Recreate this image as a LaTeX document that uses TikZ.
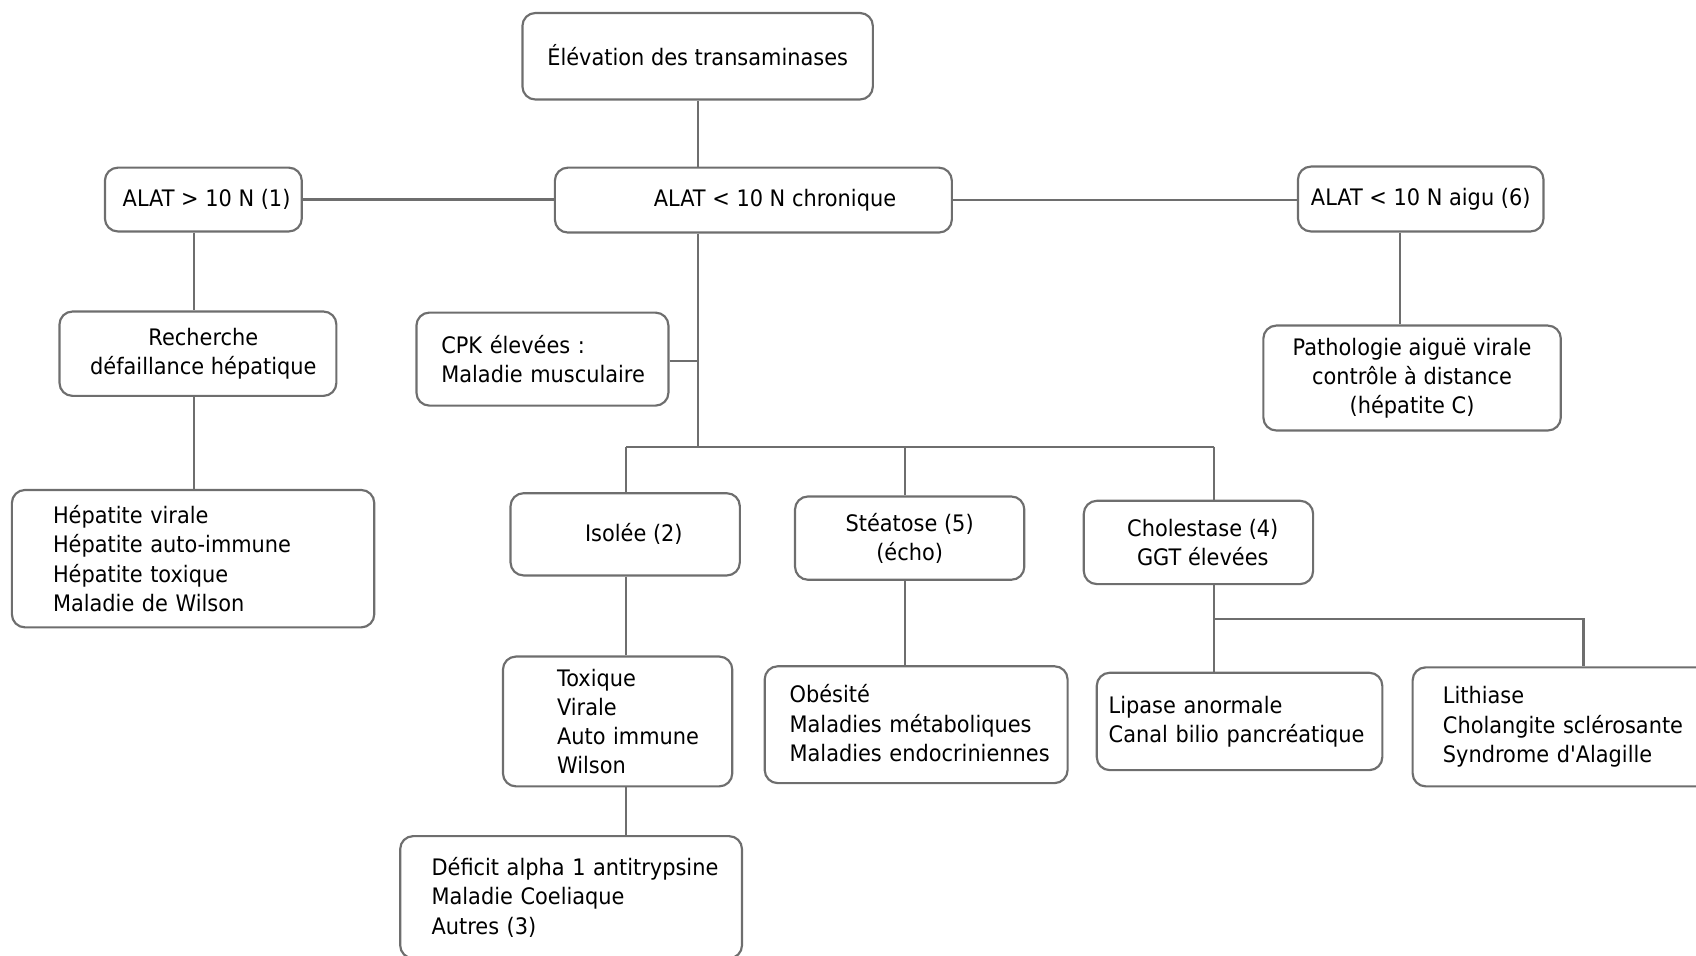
\documentclass[tikz,border=0pt]{standalone}
\usepackage{fontspec}
\newfontfamily\diagfont{DejaVu Sans}[FakeStretch=0.92]
\definecolor{linegray}{RGB}{110,110,110}
\begin{document}
\begin{tikzpicture}[x=1pt,y=-1pt,
  box/.style={draw=linegray, line width=2pt, rounded corners=12pt, inner sep=0pt,
    font=\diagfont\fontsize{21pt}{27pt}\selectfont, text=black,
    execute at begin node={\hyphenpenalty=10000\exhyphenpenalty=10000\hbadness=10000\hfuzz=200pt}},
  ctr/.style={box, align=center},
  lst/.style={box, align=left},
  conn/.style={draw=linegray, line width=2pt}]
\useasboundingbox (0,0) rectangle (1568,883);

% nodes
\node[ctr, minimum width=324pt, minimum height=80pt] (top) at (645,52) {\raisebox{3pt}{Élévation des transaminases}};
\node[ctr, minimum width=182pt, minimum height=59pt] (a1) at (188,184.5) {\hspace*{6pt}ALAT > 10 N (1)};
\node[ctr, minimum width=367pt, minimum height=60pt] (chron) at (696.5,185) {\hspace*{40pt}ALAT < 10 N chronique};
\node[ctr, minimum width=227pt, minimum height=60pt] (aigu) at (1313.5,184) {ALAT < 10 N aigu (6)};
\node[ctr, minimum width=256pt, minimum height=78pt] (rech) at (183,327) {\hspace*{10pt}Recherche\\\hspace*{10pt}défaillance hépatique};
\node[lst, minimum width=335pt, minimum height=127pt, text width=259pt] (hep) at (178.5,516.5)
  {Hépatite~virale\\Hépatite~auto-immune\\Hépatite~toxique\\Maladie~de~Wilson};
\node[lst, minimum width=233pt, minimum height=86pt, text width=187pt] (cpk) at (501.5,332)
  {CPK~élevées~:\\Maladie~musculaire};
\node[ctr, minimum width=275pt, minimum height=97pt] (path) at (1305.5,349.5)
  {Pathologie aiguë virale\\contrôle à distance\\(hépatite C)};
\node[ctr, minimum width=212pt, minimum height=76pt] (iso) at (578,494) {\hspace*{16pt}Isolée (2)};
\node[ctr, minimum width=212pt, minimum height=77pt] (stea) at (841,497.5) {Stéatose (5)\\(écho)};
\node[ctr, minimum width=212pt, minimum height=77pt] (chol) at (1108,501.5) {\hspace*{8pt}Cholestase (4)\\\hspace*{8pt}GGT élevées};
\node[lst, minimum width=212pt, minimum height=120pt, text width=112pt] (tox) at (571,667)
  {Toxique\\Virale\\Auto~immune\\Wilson};
\node[lst, minimum width=316pt, minimum height=113pt, text width=258pt] (def) at (528,829.5)
  {Déficit~alpha~1~antitrypsine\\Maladie~Coeliaque\\Autres~(3)};
\node[lst, minimum width=280pt, minimum height=108pt, text width=234pt] (obe) at (847,670)
  {\raisebox{3pt}{Obésité}\\\raisebox{3pt}{Maladies~métaboliques}\\\raisebox{3pt}{Maladies~endocriniennes}};
\node[lst, minimum width=264pt, minimum height=90pt, text width=242pt] (lip) at (1146,667)
  {Lipase~anormale\\Canal~bilio~pancréatique};
\node[lst, minimum width=274pt, minimum height=110pt, text width=218pt] (lith) at (1443,672)
  {Lithiase\\Cholangite~sclérosante\\Syndrome~d'Alagille};

% junction coordinates
\coordinate (ca) at (179,0);
\coordinate (cb) at (645,413);
\coordinate (cc) at (1294,0);
\coordinate (bl) at (579,413);
\coordinate (bm) at (837,413);
\coordinate (br) at (1122,413);
\coordinate (cj) at (1122,572);
\coordinate (cr) at (1464,572);

% connectors
\draw[conn] (top.south -| cb) -- (chron.north -| cb);
\draw[conn] (a1.east) -- (a1.east -| chron.west);
\draw[conn] (chron.east) -- (chron.east -| aigu.west);
\draw[conn] (a1.south -| ca) -- (rech.north -| ca);
\draw[conn] (rech.south -| ca) -- (hep.north -| ca);
\draw[conn] (aigu.south -| cc) -- (path.north -| cc);
\draw[conn] (chron.south -| cb) -- (cb);
\draw[conn] ([yshift=-2pt]cpk.east) -- ([yshift=-2pt]cpk.east -| cb);
\draw[conn] (bl) -- (br);
\draw[conn] (bl) -- (iso.north -| bl);
\draw[conn] (bm) -- (stea.north -| bm);
\draw[conn] (br) -- (chol.north -| br);
\draw[conn] (iso.south -| bl) -- (tox.north -| bl);
\draw[conn] (tox.south -| bl) -- (def.north -| bl);
\draw[conn] (stea.south -| bm) -- (obe.north -| bm);
\draw[conn] (chol.south -| br) -- (lip.north -| br);
\draw[conn] (cj) -- (cr) -- (lith.north -| cr);
\end{tikzpicture}
\end{document}
